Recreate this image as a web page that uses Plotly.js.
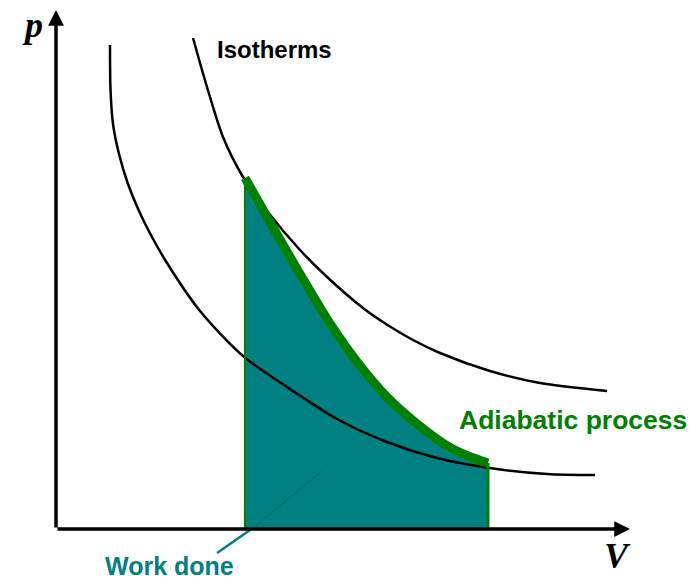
<!DOCTYPE html>
<html>
<head>
<meta charset="utf-8">
<script src="https://cdn.plot.ly/plotly-3.0.1.min.js"></script>
<style>html,body{margin:0;padding:0;background:#fff;}#chart{width:691px;height:582px;}</style>
</head>
<body>
<div id="chart"></div>
<script>
// Values (V, p in arbitrary units)
const lowerIsoV = [5.4, 5.45, 5.7, 6.3, 7.2, 8.3, 9.6, 11.1, 14.4, 18.7, 23.1, 28.1, 33.1, 38.1, 43.4, 49.1, 53.9];
const lowerIsoP = [48.4, 44.0, 40.5, 37.5, 34.5, 31.8, 29.2, 26.6, 21.8, 17.3, 14.2, 11.0, 8.7, 7.1, 6.1, 5.5, 5.4];

const upperIsoV = [13.7, 14.4, 15.4, 16.7, 18.7, 21.1, 24.4, 27.0, 30.7, 33.0, 35.7, 38.4, 43.4, 48.4, 55.1];
const upperIsoP = [49.1, 46.6, 43.2, 39.2, 35.2, 31.8, 27.9, 25.3, 22.1, 20.5, 18.9, 17.6, 15.8, 14.6, 13.8];

const adiabatV = [18.9, 21.0, 23.0, 25.0, 27.5, 30.2, 33.1, 36.0, 39.0, 41.2, 43.2];
const adiabatP = [35.1, 31.4, 27.9, 24.5, 20.4, 16.6, 13.2, 10.6, 8.4, 7.3, 6.6];

const pointerV = [16.1, 19.7];
const pointerP = [-2.4, 0.1];
const pointerInnerV = [19.7, 26.6];
const pointerInnerP = [0.1, 5.8];

const axisV = [0, 57.4];   // V axis from origin to arrow tip
const axisP = [0, 51.9];   // p axis from origin to arrow tip

const labels = {
  isotherms: 'Isotherms',
  adiabatic: 'Adiabatic process',
  work: 'Work done',
  p: 'p',
  v: 'V'
};

const TEAL = '#008080';
const GREEN = '#008000';

const vStart = adiabatV[0], vEnd = adiabatV[adiabatV.length - 1];
const pStart = adiabatP[0], pEnd = adiabatP[adiabatP.length - 1];

const fillV = adiabatV.concat([vEnd, vStart]);
const fillP = adiabatP.concat([0, 0]);

const traces = [
  {x: fillV, y: fillP, type: 'scatter', mode: 'lines', fill: 'toself', fillcolor: TEAL,
   line: {width: 0, color: TEAL}, hoverinfo: 'skip'},
  {x: pointerInnerV, y: pointerInnerP, type: 'scatter', mode: 'lines',
   line: {color: '#006a6a', width: 1}, hoverinfo: 'skip'},
  {x: lowerIsoV, y: lowerIsoP, type: 'scatter', mode: 'lines', line: {color: '#000', width: 2.5, shape: 'spline', smoothing: 0.8}},
  {x: upperIsoV, y: upperIsoP, type: 'scatter', mode: 'lines', line: {color: '#000', width: 2.5, shape: 'spline', smoothing: 0.8}},
  {x: [vStart, vStart], y: [0, pStart], type: 'scatter', mode: 'lines', line: {color: GREEN, width: 2}},
  {x: [vEnd, vEnd], y: [0, pEnd], type: 'scatter', mode: 'lines', line: {color: GREEN, width: 3}},
  {x: adiabatV, y: adiabatP, type: 'scatter', mode: 'lines', line: {color: GREEN, width: 9, shape: 'spline', smoothing: 0.8}},
  {x: pointerV, y: pointerP, type: 'scatter', mode: 'lines', line: {color: TEAL, width: 2.5}}
];

const layout = {
  width: 691, height: 582,
  margin: {l: 0, r: 0, t: 0, b: 0},
  paper_bgcolor: '#fff', plot_bgcolor: '#fff',
  showlegend: false,
  xaxis: {range: [-5.6, 63.5], visible: false, fixedrange: true},
  yaxis: {range: [-5.3, 52.9], visible: false, fixedrange: true},
  annotations: [
    {x: axisV[0], y: axisP[1], ax: axisV[0], ay: axisP[0], xref: 'x', yref: 'y', axref: 'x', ayref: 'y',
     text: '', showarrow: true, arrowhead: 2, arrowsize: 0.9, arrowwidth: 3.5, arrowcolor: '#000', standoff: 0, startstandoff: 0},
    {x: axisV[1], y: axisP[0], ax: axisV[0], ay: axisP[0], xref: 'x', yref: 'y', axref: 'x', ayref: 'y',
     text: '', showarrow: true, arrowhead: 2, arrowsize: 0.9, arrowwidth: 3.5, arrowcolor: '#000', standoff: 0, startstandoff: 0},
    {x: 15.9, y: 48.0, xref: 'x', yref: 'y', xanchor: 'left', yanchor: 'middle', showarrow: false,
     text: '<b>' + labels.isotherms + '</b>', font: {family: 'Liberation Sans, Arial', size: 24, color: '#000'}},
    {x: 40.1, y: 10.9, xref: 'x', yref: 'y', xanchor: 'left', yanchor: 'middle', showarrow: false,
     text: '<b>' + labels.adiabatic + '</b>', font: {family: 'Liberation Sans, Arial', size: 26.5, color: GREEN}},
    {x: 4.7, y: -3.7, xref: 'x', yref: 'y', xanchor: 'left', yanchor: 'middle', showarrow: false,
     text: '<b>' + labels.work + '</b>', font: {family: 'Liberation Sans, Arial', size: 25, color: TEAL}},
    {x: -2.4, y: 50.4, xref: 'x', yref: 'y', xanchor: 'center', yanchor: 'middle', showarrow: false,
     text: '<b><i>' + labels.p + '</i></b>', font: {family: 'Liberation Serif, Times New Roman', size: 36, color: '#000'}},
    {x: 56.1, y: -2.7, xref: 'x', yref: 'y', xanchor: 'center', yanchor: 'middle', showarrow: false,
     text: '<b><i>' + labels.v + '</i></b>', font: {family: 'Liberation Serif, Times New Roman', size: 36, color: '#000'}}
  ]
};

Plotly.newPlot('chart', traces, layout, {displayModeBar: false, staticPlot: true});
</script>
</body>
</html>
